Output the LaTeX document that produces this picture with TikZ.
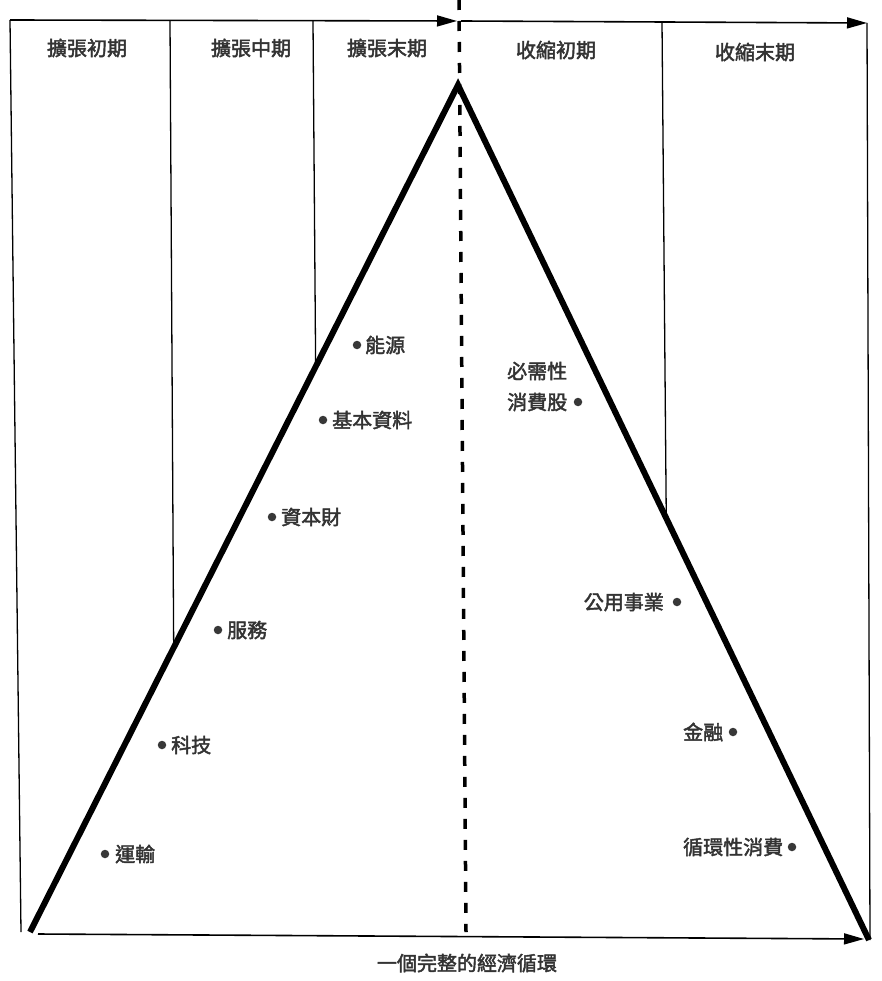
\documentclass[tikz,border=0pt]{standalone}
\usepackage{fontspec}
\newfontfamily\cjk{Noto Sans CJK TC}[FakeBold=2.2]
\usetikzlibrary{arrows.meta}
\begin{document}
\begin{tikzpicture}[x=1pt,y=-1pt,
  thinline/.style={line width=1.3pt},
  axis/.style={line width=1.6pt,-{Triangle[length=20pt,width=11pt]}},
  cyc/.style={line width=6pt,line join=miter},
  midline/.style={line width=3.5pt,dash pattern=on 10pt off 11pt},
  lbl/.style={font=\cjk\fontsize{20}{24}\selectfont, text=black!80, inner sep=0pt},
  dot/.style={circle,fill=black!78,inner sep=0pt,minimum size=8.5pt}]
\useasboundingbox (0,0) rectangle (882,981);
\fill[white] (0,0) rectangle (882,981);
% frame coordinates
\coordinate (tl) at (10,20);
\coordinate (bl) at (21,932);
\coordinate (mt) at (457,21);
\coordinate (ms) at (461,21);
\coordinate (tr) at (867,23);
\coordinate (br) at (870,940);
\coordinate (lb) at (30,932);
\coordinate (apex) at (458,85);
\coordinate (rb) at (869,940);
\coordinate (bs) at (38,934);
\coordinate (be) at (864,939);
\coordinate (dt) at (459,0);
\coordinate (db) at (466,932);
% divider guides
\coordinate (v1t) at (170,21);
\coordinate (v1b) at (174,700);
\coordinate (v2t) at (313,21);
\coordinate (v2b) at (316,420);
\coordinate (v3t) at (662,22);
\coordinate (v3b) at (667,600);
% frame
\draw[thinline] (tl) -- (bl);
\draw[thinline] (tr) -- (br);
\draw[thinline] (v1t) -- (intersection of v1t--v1b and lb--apex);
\draw[thinline] (v2t) -- (intersection of v2t--v2b and lb--apex);
\draw[thinline] (v3t) -- (intersection of v3t--v3b and apex--rb);
\draw[axis] (tl) -- (mt);
\draw[axis] (ms) -- (tr);
\draw[axis] (bs) -- (be);
% dashed middle
\draw[midline] (dt) -- (db);
% cycle triangle
\draw[cyc] (lb) -- (apex) -- (rb);
% headers
\node[lbl] (h1) at (87,48) {擴張初期};
\node[lbl] (h2) at (251,48) {擴張中期};
\node[lbl] (h3) at (387,48) {擴張末期};
\node[lbl] (h4) at (556,50) {收縮初期};
\node[lbl] (h5) at (755,52) {收縮末期};
% left side sectors
\node[dot] (d1) at (357,345) {};
\node[lbl,anchor=west] (s1) at (365,345) {能源};
\node[dot] (d2) at (323,420) {};
\node[lbl,anchor=west] (s2) at (332,420) {基本資料};
\node[dot] (d3) at (272,517) {};
\node[lbl,anchor=west] (s3) at (281,517) {資本財};
\node[dot] (d4) at (218,630) {};
\node[lbl,anchor=west] (s4) at (227,630) {服務};
\node[dot] (d5) at (162,745) {};
\node[lbl,anchor=west] (s5) at (171,745) {科技};
\node[dot] (d6) at (105,854) {};
\node[lbl,anchor=west] (s6) at (115,854) {運輸};
% right side sectors
\node[lbl,anchor=west] (s7a) at (507,371) {必需性};
\node[lbl,anchor=west] (s7b) at (507,402) {消費股};
\node[dot] (d7) at (578,402) {};
\node[lbl,anchor=east] (s8) at (664,602) {公用事業};
\node[dot] (d8) at (677,602) {};
\node[lbl,anchor=west] (s9) at (683,732) {金融};
\node[dot] (d9) at (733,732) {};
\node[lbl,anchor=west] (s10) at (683,847) {循環性消費};
\node[dot] (d10) at (792,847) {};
% bottom caption
\node[lbl] (cap) at (467,963) {一個完整的經濟循環};
\end{tikzpicture}
\end{document}
